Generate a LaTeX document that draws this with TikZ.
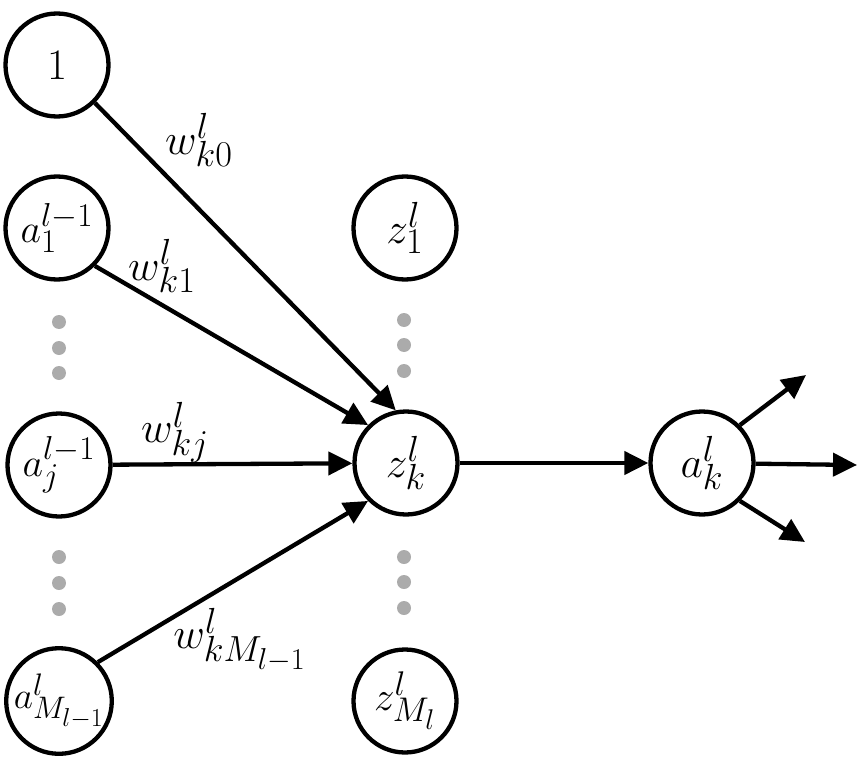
\documentclass[tikz,border=0pt]{standalone}
\usepackage{graphicx}
\usetikzlibrary{arrows.meta}
\newcommand{\mtxt}[2][1.75]{\scalebox{#1}{\Huge$#2$}}
\begin{document}
\begin{tikzpicture}[x=1pt,y=-1pt,
  neuron/.style={circle,draw,line width=4.3pt,minimum size=103pt,inner sep=0pt},
  conn/.style={line width=4.3pt,-{Triangle[length=24pt,width=23pt]}},
  lbl/.style={inner sep=0pt},
  gdot/.style={circle,fill=black!33,minimum size=14pt,inner sep=0pt}]
\useasboundingbox (0,0) rectangle (861,770);
% neurons
\node[neuron] (one) at (57,65) {\mtxt{1}};
\node[neuron] (a1) at (57,228) {\mtxt[1.6]{a_1^{l-1}}};
\node[neuron] (aj) at (59,465) {\mtxt[1.6]{a_j^{l-1}}};
\node[neuron] (aM) at (59,701) {\mtxt[1.5]{a_{M_{l-1}}^{l}}};
\node[neuron] (z1) at (405,228) {\mtxt{z_1^l}};
\node[neuron] (zk) at (406,463) {\mtxt{z_k^l}};
\node[neuron] (zM) at (405,701) {\mtxt[1.65]{z_{M_l}^l}};
\node[neuron] (ak) at (702,463) {\mtxt{a_k^l}};
% dots
\foreach \y [count=\i] in {322,348,373,557,583,609}{
  \node[gdot] (ld\i) at (59,\y) {};
}
\foreach \y [count=\i] in {320,345,371,557,582,608}{
  \node[gdot] (md\i) at (404,\y) {};
}
% free ends
\coordinate (o1) at (806,375);
\coordinate (o2) at (857,465);
\coordinate (o3) at (805,542);
% connectors
\draw[conn] (one.-45) -- (zk.101);
\draw[conn] (a1.-45) -- (zk.135);
\draw[conn] (aj) -- (zk);
\draw[conn] (aM.45) -- (zk.225);
\draw[conn] (zk) -- (ak);
\draw[conn] (ak.45) -- (o1);
\draw[conn] (ak) -- (o2);
\draw[conn] (ak.-45) -- (o3);
% weight labels
\node[lbl] (w0) at (199,140) {\mtxt{w_{k0}^l}};
\node[lbl] (w1) at (162,266) {\mtxt{w_{k1}^l}};
\node[lbl] (wj) at (175,432) {\mtxt{w_{kj}^l}};
\node[lbl] (wM) at (240,640) {\mtxt{w_{kM_{l-1}}^l}};
\end{tikzpicture}
\end{document}
